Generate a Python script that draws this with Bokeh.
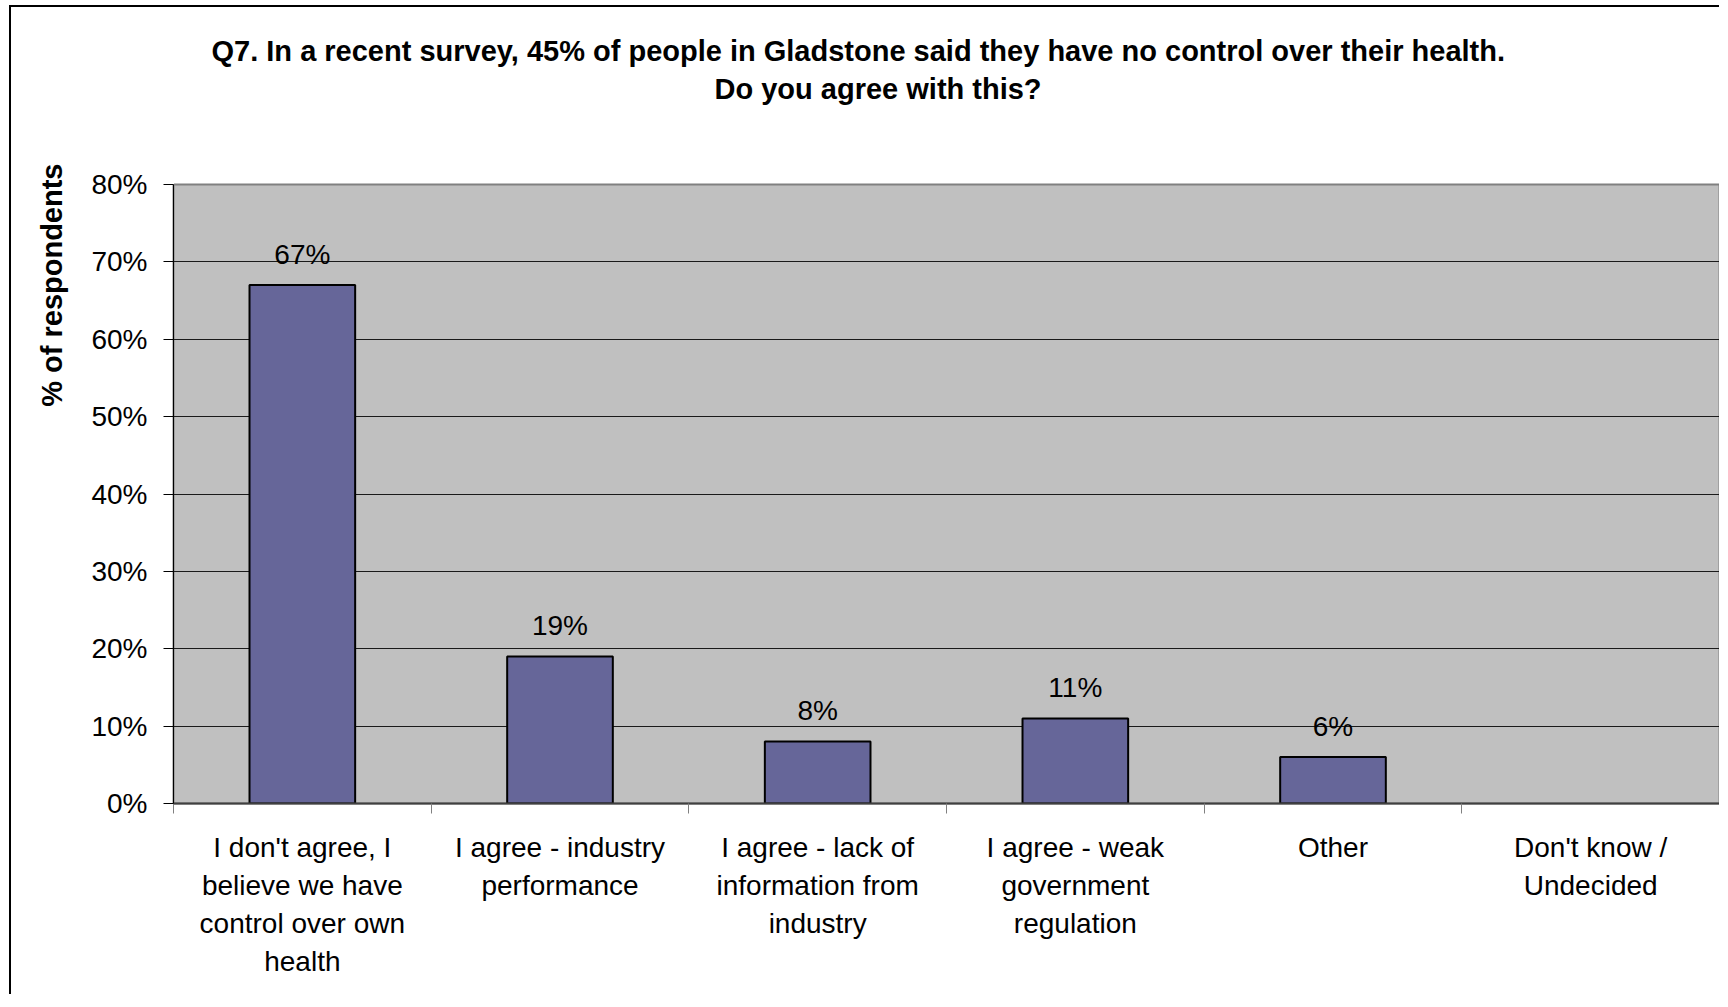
from bokeh.plotting import figure
from bokeh.models import FixedTicker, PrintfTickFormatter, Title, ColumnDataSource, LinearAxis
from bokeh.core.properties import value
from bokeh.embed import file_html
from bokeh.resources import INLINE

# ---------------- data ----------------
categories = [
    "I don't agree, I\nbelieve we have\ncontrol over own\nhealth",
    "I agree - industry\nperformance",
    "I agree - lack of\ninformation from\nindustry",
    "I agree - weak\ngovernment\nregulation",
    "Other",
    "Don't know /\nUndecided",
]
percent = [67, 19, 8, 11, 6, 0]
y_ticks = [0, 10, 20, 30, 40, 50, 60, 70, 80]
title_lines = [
    "Q7. In a recent survey, 45% of people in Gladstone said they have no control over their health.",
    "Do you agree with this?",
]
y_title = "% of respondents"

# ---------------- layout ----------------
FONT = "Liberation Sans"
W, H = 1710, 989
FL, FT, FR, FB = 162, 177, 1708, 796
N = len(categories)
YMAX = y_ticks[-1]

p = figure(
    width=W, height=H,
    x_range=(0, N), y_range=(0, YMAX),
    output_backend="svg", toolbar_location=None,
    min_border_left=FL, min_border_top=FT,
    min_border_right=W - FR, min_border_bottom=H - FB,
)
p.styles = {"border-left": "2px solid black", "border-top": "2px solid black",
            "margin-left": "9px", "margin-top": "5px"}
p.background_fill_color = "#C0C0C0"
p.border_fill_color = "white"
p.outline_line_color = "#808080"
p.outline_line_width = 2

xa = p.below[0]
ya = p.left[0]

# invisible spacer between the plot area and the two title lines
spacer = LinearAxis(ticker=FixedTicker(ticks=[0]), axis_line_color=None,
                    major_tick_line_color="white", minor_tick_line_color=None,
                    major_tick_out=78, major_tick_in=0, minor_tick_out=0,
                    minor_tick_in=0, major_label_standoff=0,
                    major_label_overrides={0: ""},
                    major_label_text_font_size="1px")
p.add_layout(spacer, "above")

# titles (two lines, each centred on its own)
title_style = dict(text_font=FONT, text_font_style="bold",
                   text_font_size="29px", text_color="black")
p.add_layout(Title(text=title_lines[1], align="left", offset=541, standoff=4,
                   **title_style), "above")
p.title.text = title_lines[0]
p.title.align = "left"
p.title.offset = 38
p.title.standoff = 4
for k, v in title_style.items():
    setattr(p.title, k, v)

# grid
p.xgrid.grid_line_color = None
p.ygrid.ticker = FixedTicker(ticks=y_ticks)
p.ygrid.grid_line_color = "#1a1a1a"
p.ygrid.grid_line_width = 1

# y axis
ya.ticker = FixedTicker(ticks=y_ticks)
ya.formatter = PrintfTickFormatter(format="%d%%")
ya.major_tick_out = 10
ya.major_tick_in = 0
ya.minor_tick_line_color = None
ya.axis_line_color = "black"
ya.major_tick_line_color = "black"
ya.major_label_standoff = 16
ya.major_label_text_font = FONT
ya.major_label_text_font_size = "28px"
ya.major_label_text_color = "black"

p.add_layout(Title(text=y_title, align="right", offset=-21, standoff=41,
                   **title_style), "left")

# x axis
xs = [i + 0.5 for i in range(N)]
xa.ticker = FixedTicker(ticks=xs, minor_ticks=list(range(N + 1)))
xa.major_label_overrides = {x: c for x, c in zip(xs, categories)}
xa.major_tick_line_color = None
xa.major_tick_out = 0
xa.major_tick_in = 0
xa.minor_tick_line_color = "#808080"
xa.minor_tick_line_width = 1
xa.minor_tick_out = 10
xa.minor_tick_in = 0
xa.axis_line_color = "#404040"
xa.axis_line_width = 2
xa.major_label_standoff = 18
xa.major_label_text_font = FONT
xa.major_label_text_font_size = "28px"
xa.major_label_text_color = "black"
xa.major_label_text_line_height = 1.23

# bars
bx = [x for x, v in zip(xs, percent) if v > 0]
bv = [v for v in percent if v > 0]
src = ColumnDataSource(dict(x=bx, top=bv, label=[f"{v}%" for v in bv]))
p.vbar(x="x", top="top", width=0.41, source=src,
       fill_color="#666699", line_color="black", line_width=2)
p.text(x="x", y="top", text="label", source=src, y_offset=-31,
       text_align="center", text_baseline="middle",
       text_font=value(FONT), text_font_size="28px", text_color="black")

open("out.html", "w").write(file_html(p, INLINE))
